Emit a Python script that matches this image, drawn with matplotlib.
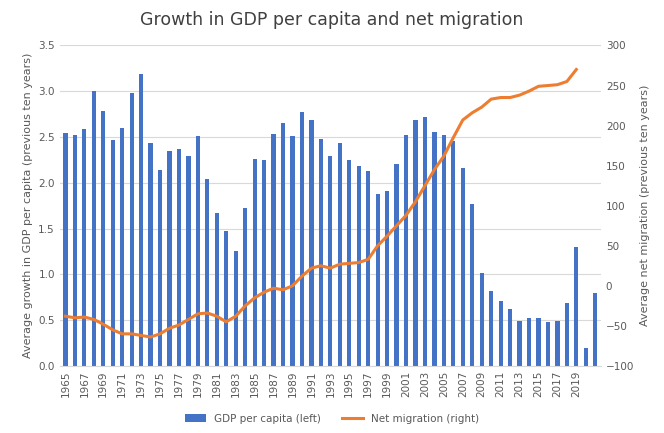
import numpy as np
import matplotlib.pyplot as plt

years = list(range(1965, 2022))
gdp = [2.54, 2.52, 2.59, 3.00, 2.78, 2.47, 2.60, 2.98, 3.19, 2.44,
       2.14, 2.35, 2.37, 2.29, 2.51, 2.04, 1.67, 1.47, 1.26, 1.72,
       2.26, 2.25, 2.53, 2.65, 2.51, 2.77, 2.69, 2.48, 2.29, 2.43,
       2.25, 2.18, 2.13, 1.88, 1.91, 2.20, 2.52, 2.69, 2.72, 2.56,
       2.52, 2.46, 2.16, 1.77, 1.01, 0.82, 0.71, 0.62, 0.49, 0.52,
       0.52, 0.48, 0.49, 0.69, 1.30, 0.19, 0.80]
mig_years = list(range(1965, 2020))
migration = [-38, -40, -39, -42, -48, -55, -60, -60, -62, -64,
             -60, -53, -49, -42, -35, -34, -38, -45, -38, -25,
             -15, -8, -3, -5, 0, 12, 22, 25, 22, 27,
             28, 29, 33, 50, 62, 75, 88, 105, 125, 145,
             162, 185, 207, 216, 223, 233, 235, 235, 238, 243,
             249, 250, 251, 255, 270]
tick_years = list(range(1965, 2020, 2))

fig, ax = plt.subplots(figsize=(6.64, 4.33), dpi=100)
fig.subplots_adjust(left=0.09, right=0.905, top=0.895, bottom=0.155)
x = np.arange(len(years))
bars = ax.bar(x, gdp, width=0.45, color='#4472C4', label='GDP per capita (left)', zorder=2)
ax.set_ylim(0, 3.5)
ax.set_yticks(np.arange(0, 3.51, 0.5))
ax.set_yticklabels([f"{v:.1f}" for v in np.arange(0, 3.51, 0.5)])
ax.set_xlim(-0.6, len(years) - 0.4)
ax.set_xticks([years.index(y) for y in tick_years])
ax.set_xticklabels(tick_years, rotation=90)
ax.grid(axis='y', color='#d9d9d9', lw=0.8, zorder=0)
ax.set_ylabel('Average growth in GDP per capita (previous ten years)', color='#595959', fontsize=8)

ax2 = ax.twinx()
line, = ax2.plot([years.index(y) for y in mig_years], migration, color='#ED7D31', lw=2.2,
                 label='Net migration (right)')
ax2.set_ylim(-100, 300)
ax2.set_yticks(range(-100, 301, 50))
ax2.set_ylabel('Average net migration (previous ten years)', color='#595959', fontsize=8)

for a in (ax, ax2):
    a.tick_params(length=0, labelsize=7.5, colors='#595959')
    for s in a.spines.values():
        s.set_visible(False)
ax.spines['bottom'].set_visible(True)
ax.spines['bottom'].set_color('#d9d9d9')

fig.suptitle('Growth in GDP per capita and net migration', color='#404040', fontsize=12.5, y=0.975)
fig.legend([bars, line], ['GDP per capita (left)', 'Net migration (right)'], loc='lower center',
           ncol=2, frameon=False, fontsize=7.5, bbox_to_anchor=(0.5, 0.0), labelcolor='#595959')
fig.savefig('out.png')
